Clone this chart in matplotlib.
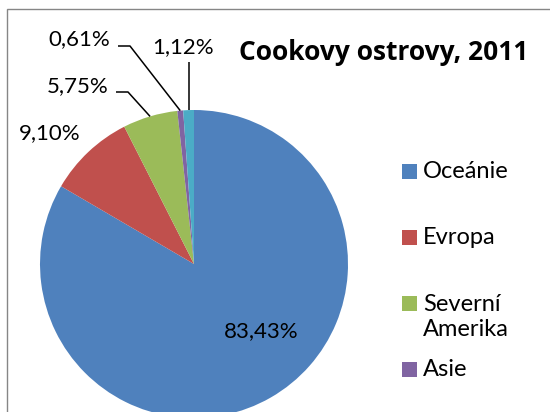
import matplotlib
matplotlib.use('Agg')
import numpy as np
import matplotlib.pyplot as plt
from matplotlib.patches import Rectangle

# Data
categories = ['Oceánie', 'Evropa', 'Severní\nAmerika', 'Asie', 'Ostatní']
shares = [83.43, 9.10, 5.75, 0.61, 1.12]
share_labels = ['83,43%', '9,10%', '5,75%', '0,61%', '1,12%']
colors = ['#4F81BD', '#C0504D', '#9BBB59', '#8064A2', '#4BACC6']
title = 'Cookovy ostrovy, 2011'

plt.rcParams['font.family'] = ['Lato', 'DejaVu Sans']

# Layout in pixels (figure 550x412, origin top-left)
W, H = 550, 412
CX, CY, R = 194, 264, 154
LINE_PX = 26  # legend line pitch for wrapped names


def px(x, y):
    return (x - CX) / R, (CY - y) / R


label_pos = [(261.5, 331), (50, 133), (78, 86), (79, 39), (183.5, 47)]
leaders = {2: [(116, 92), (128, 92)], 3: [(118, 46), (130, 46)], 4: [(None, 62)]}

fig = plt.figure(figsize=(W / 100, H / 100), dpi=100)
ax = fig.add_axes([0, 0, 1, 1])
wedges, _ = ax.pie(shares, colors=colors, startangle=90, counterclock=False,
                   radius=1, wedgeprops=dict(linewidth=0))
ax.set_xlim(-CX / R, (W - CX) / R)
ax.set_ylim((CY - H) / R, CY / R)
ax.axis('off')

for i, w in enumerate(wedges):
    x, y = px(*label_pos[i])
    ax.text(x, y, share_labels[i], fontsize=16, ha='center', va='center')
    if i in leaders:
        mid = np.deg2rad((w.theta1 + w.theta2) / 2)
        ex, ey = np.cos(mid), np.sin(mid)
        pts = []
        for lx, ly in leaders[i]:
            if lx is None:
                pts.append((ex, px(0, ly)[1]))
            else:
                pts.append(px(lx, ly))
        pts.append((ex, ey))
        xs, ys = zip(*pts)
        ax.plot(xs, ys, color='black', lw=1.1, solid_capstyle='butt')

# Title
fig.text(383.5 / W, 1 - 60 / H, title, fontsize=19, fontweight='bold',
         family=['Open Sans', 'DejaVu Sans'], ha='center', va='baseline')

# Legend (the last entry falls below the chart area in the original)
for i, (cat, col) in enumerate(zip(categories[:4], colors[:4])):
    yc = 171.5 + 66 * i
    fig.patches.append(Rectangle((402 / W, 1 - (yc + 7.5) / H), 15 / W, 15 / H,
                                 transform=fig.transFigure, facecolor=col,
                                 edgecolor='none'))
    nlines = cat.count('\n')
    base = yc + 7 + LINE_PX * nlines
    fig.text(423 / W, 1 - base / H, cat, fontsize=17, ha='left',
             va='baseline', linespacing=1.25)

# Chart border
fig.patches.append(Rectangle((7 / W, -0.1), 1.2, 0.1 + 1 - 9 / H,
                             transform=fig.transFigure, fill=False,
                             edgecolor='#868686', lw=1))

fig.savefig('out.png', dpi=100)
